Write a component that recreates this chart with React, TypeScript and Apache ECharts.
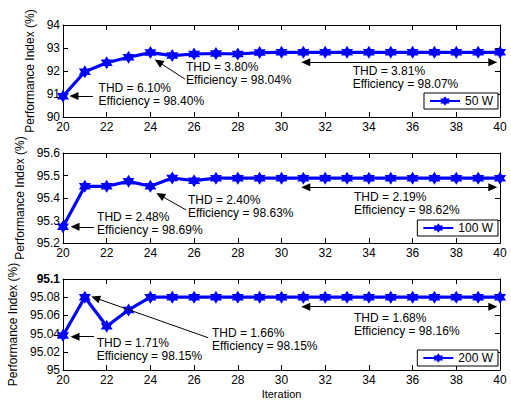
import React, { useEffect, useRef } from "react";
import * as echarts from "echarts";

const iterations = [20, 21, 22, 23, 24, 25, 26, 27, 28, 29, 30, 31, 32, 33, 34, 35, 36, 37, 38, 39, 40];
const pi50 = [90.9, 91.97, 92.36, 92.6, 92.8, 92.67, 92.74, 92.76, 92.74, 92.8, 92.81, 92.81, 92.81, 92.81, 92.81, 92.81, 92.81, 92.81, 92.81, 92.81, 92.81];
const pi100 = [95.272, 95.452, 95.452, 95.474, 95.452, 95.489, 95.477, 95.488, 95.488, 95.488, 95.488, 95.488, 95.488, 95.488, 95.488, 95.488, 95.488, 95.488, 95.488, 95.488, 95.488];
const pi200 = [95.038, 95.08, 95.048, 95.066, 95.08, 95.08, 95.08, 95.08, 95.08, 95.08, 95.08, 95.08, 95.08, 95.08, 95.08, 95.08, 95.08, 95.08, 95.08, 95.08, 95.08];

const seriesNames = ["50 W", "100 W", "200 W"];
const yMins = [90, 95.2, 95];
const yMaxs = [94, 95.6, 95.1];
const yIntervals = [1, 0.1, 0.02];

// annotations: [startX, startY, endX, endY, startArrow, endArrow]
const arrows50 = [
  [21.37, 90.91, 20.5, 90.91, 0, 1],
  [25.58, 91.65, 24.37, 92.39, 0, 1],
  [31.11, 92.38, 39.67, 92.38, 1, 1],
];
const arrows100 = [
  [21.42, 95.272, 20.55, 95.272, 0, 1],
  [25.63, 95.347, 24.45, 95.412, 0, 1],
  [31.11, 95.448, 39.67, 95.448, 1, 1],
];
const arrows200 = [
  [21.42, 95.0366, 20.55, 95.0366, 0, 1],
  [26.64, 95.0355, 21.49, 95.0791, 0, 1],
  [31.11, 95.0696, 39.67, 95.0696, 1, 1],
];
// notes: [x, y, THD, Efficiency]
const notes50: [number, number, string, string][] = [
  [21.63, 91.0, "6.10%", "98.40%"],
  [25.63, 91.88, "3.80%", "98.04%"],
  [33.26, 91.7, "3.81%", "98.07%"],
];
const notes100: [number, number, string, string][] = [
  [21.56, 95.286, "2.48%", "98.69%"],
  [25.72, 95.361, "2.40%", "98.63%"],
  [33.32, 95.376, "2.19%", "98.62%"],
];
const notes200: [number, number, string, string][] = [
  [21.54, 95.0229, "1.71%", "98.15%"],
  [26.82, 95.0335, "1.66%", "98.15%"],
  [33.32, 95.0503, "1.68%", "98.16%"],
];

const FONT = "'Liberation Sans', Arial, sans-serif";
const HEX = "path://M0,-100L28.9,-50L86.6,-50L57.7,0L86.6,50L28.9,50L0,100L-28.9,50L-86.6,50L-57.7,0L-86.6,-50L-28.9,-50Z";

const gridLayout = [
  { top: 25, height: 92, nameGap: 21, legendTop: 93 },
  { top: 153, height: 90, nameGap: 30, legendTop: 220 },
  { top: 279, height: 91, nameGap: 38, legendTop: 350 },
];

export default function App() {
  const ref = useRef<HTMLDivElement>(null);
  useEffect(() => {
    if (!ref.current) return;
    const chart = echarts.init(ref.current, null, { renderer: "svg" });
    const allData = [pi50, pi100, pi200];
    const allArrows = [arrows50, arrows100, arrows200];
    const allNotes = [notes50, notes100, notes200];

    const grids: any[] = [];
    const xAxes: any[] = [];
    const yAxes: any[] = [];
    const series: any[] = [];
    const legends: any[] = [];

    gridLayout.forEach((g, i) => {
      grids.push({ left: 63, right: 11, top: g.top, height: g.height, containLabel: false, outerBoundsMode: "none", show: false });
      const axisLine = { show: true, lineStyle: { color: "#000", width: 1 } };
      const tick = { show: true, inside: true, length: 5, lineStyle: { color: "#000", width: 1 } };
      const labelStyle = { color: "#000", fontSize: 12, fontFamily: FONT };
      xAxes.push({
        type: "value", gridIndex: i, position: "bottom", min: 20, max: 40, interval: 2,
        axisLine, axisTick: tick, splitLine: { show: false },
        axisLabel: { ...labelStyle, margin: 4 },
        name: i === 2 ? "Iteration" : "",
        nameLocation: "middle", nameGap: 18,
        nameTextStyle: { color: "#000", fontSize: 11, fontFamily: FONT },
      });
      xAxes.push({
        type: "value", gridIndex: i, position: "top", min: 20, max: 40, interval: 2,
        axisLine, axisTick: tick, splitLine: { show: false }, axisLabel: { show: false },
      });
      yAxes.push({
        type: "value", gridIndex: i, position: "left", min: yMins[i], max: yMaxs[i], interval: yIntervals[i],
        axisLine, axisTick: tick, splitLine: { show: false },
        axisLabel: {
          ...labelStyle, margin: 3,
          formatter: (v: number) => {
            const s = String(+v.toFixed(4));
            return i === 2 && Math.abs(v - 95.1) < 1e-6 ? "{b|" + s + "}" : s;
          },
          rich: { b: { fontWeight: "bold", fontSize: 12, fontFamily: FONT, color: "#000" } },
        },
        name: "Performance Index (%)", nameLocation: "middle", nameGap: g.nameGap,
        nameTextStyle: { color: "#000", fontSize: 12, fontFamily: FONT },
      });
      yAxes.push({
        type: "value", gridIndex: i, position: "right", min: yMins[i], max: yMaxs[i], interval: yIntervals[i],
        axisLine, axisTick: tick, splitLine: { show: false }, axisLabel: { show: false },
      });

      const data = iterations.map((x, k) => [x, allData[i][k]]);
      series.push({
        name: seriesNames[i],
        type: "line",
        xAxisIndex: i * 2,
        yAxisIndex: i * 2,
        data,
        symbol: HEX,
        symbolSize: [12, 13],
        lineStyle: { color: "#0000ff", width: 3.2 },
        itemStyle: { color: "#0000ff" },
        z: 3,
        markLine: {
          silent: true,
          animation: false,
          label: { show: false },
          lineStyle: { color: "#000", width: 1, type: "solid" },
          symbolSize: [8, 9],
          data: allArrows[i].map((a) => [
            { coord: [a[0], a[1]], symbol: a[4] ? "triangle" : "none" },
            { coord: [a[2], a[3]], symbol: a[5] ? "triangle" : "none" },
          ]),
        },
        markPoint: {
          silent: true,
          animation: false,
          symbol: "circle",
          symbolSize: 0,
          itemStyle: { color: "rgba(0,0,0,0)" },
          label: {
            show: true, position: "right", distance: 0,
            color: "#000", fontSize: 12, lineHeight: 13, fontFamily: FONT,
          },
          data: allNotes[i].map((n) => ({
            coord: [n[0], n[1]],
            label: { formatter: "THD = " + n[2] + "\nEfficiency = " + n[3] },
          })),
        },
      });

      legends.push({
        data: [seriesNames[i]],
        right: 13, top: g.legendTop,
        orient: "horizontal",
        backgroundColor: "#fff",
        borderColor: "#000", borderWidth: 1, borderRadius: 0,
        padding: [2, 5, 2, 5],
        itemWidth: 30, itemHeight: 12, itemGap: 0,
        textStyle: { color: "#000", fontSize: 12, fontFamily: FONT },
        selectedMode: false,
      });
    });

    chart.setOption({
      animation: false,
      backgroundColor: "#fff",
      textStyle: { fontFamily: FONT },
      grid: grids,
      xAxis: xAxes,
      yAxis: yAxes,
      legend: legends,
      series,
    });
    return () => chart.dispose();
  }, []);
  return <div ref={ref} style={{ position: "fixed", left: 0, top: 0, width: 511, height: 400 }} />;
}
